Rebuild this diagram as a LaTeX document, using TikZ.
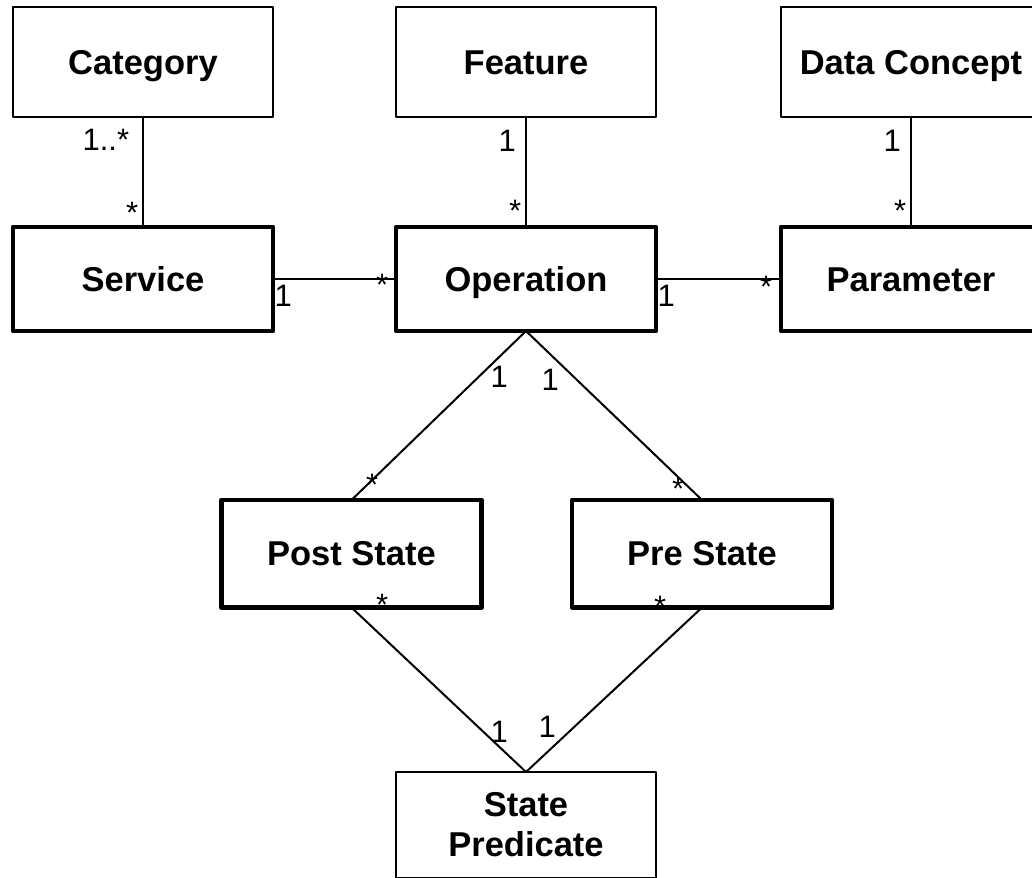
\documentclass[tikz,border=0pt]{standalone}
\usepackage{fontspec}
\setmainfont{Liberation Sans}
\begin{document}
\begin{tikzpicture}[x=1pt,y=-1pt,
  box/.style={draw, rectangle, minimum width=260pt, inner sep=0pt, outer sep=0pt,
    font=\fontsize{34.5}{40}\selectfont\bfseries, line join=round},
  thinbox/.style={box, line width=2pt},
  thickbox/.style={box, line width=4.6pt},
  capc/.style={text height=24.4pt, text depth=0pt},
  conn/.style={line width=2pt},
  mult/.style={inner sep=0pt, outer sep=0pt, anchor=base west, font=\fontsize{31}{36}\selectfont}
]
\useasboundingbox (0,0) rectangle (1032,877);
\clip (0,0) rectangle (1032,877);

% top row
\node[thinbox, capc, minimum height=109.5pt] (cat) at (143,62.25) {Category};
\node[thinbox, capc, minimum height=109.5pt] (feat) at (526,62.25) {Feature};
\node[thinbox, capc, minimum height=109.5pt] (dc) at (911,62.25) {Data Concept};
% middle row
\node[thickbox, capc, minimum height=104pt] (srv) at (143,279) {Service};
\node[thickbox, capc, minimum height=104pt] (op) at (526,279) {Operation};
\node[thickbox, capc, minimum height=104pt] (par) at (911,279) {Parameter};
% states
\node[thickbox, capc, minimum height=107.5pt] (post) at (351.5,553.75) {Post State};
\node[thickbox, capc, minimum height=107.5pt] (pre) at (702,553.75) {Pre State};
% state predicate
\node[thinbox, align=center, minimum height=106pt] (sp) at (526,825) {State\\Predicate};

% connectors
\draw[conn] (cat.south) -- (srv.north);
\draw[conn] (feat.south) -- (op.north);
\draw[conn] (dc.south) -- (par.north);
\draw[conn] (srv.east) -- (op.west);
\draw[conn] (op.east) -- (par.west);
\draw[conn] (op.south) -- (post.north);
\draw[conn] (op.south) -- (pre.north);
\draw[conn] (post.south) -- (sp.north);
\draw[conn] (pre.south) -- (sp.north);

% multiplicities
\node[mult] (m1) at (82.6,151) {1..*};
\node[mult] (m2) at (126,224) {*};
\node[mult] (m3) at (498.6,152) {1};
\node[mult] (m4) at (509,222) {*};
\node[mult] (m5) at (883.6,152) {1};
\node[mult] (m6) at (894,222) {*};
\node[mult] (m7) at (274.6,306) {1};
\node[mult] (m8) at (376,295) {*};
\node[mult] (m9) at (657.6,306) {1};
\node[mult] (m10) at (760,297) {*};
\node[mult] (m11) at (490.6,387) {1};
\node[mult] (m12) at (366,495) {*};
\node[mult] (m13) at (541.6,390) {1};
\node[mult] (m14) at (672,499) {*};
\node[mult] (m15) at (376,615) {*};
\node[mult] (m16) at (490.6,742) {1};
\node[mult] (m17) at (654,617) {*};
\node[mult] (m18) at (538.6,737) {1};
\end{tikzpicture}
\end{document}
